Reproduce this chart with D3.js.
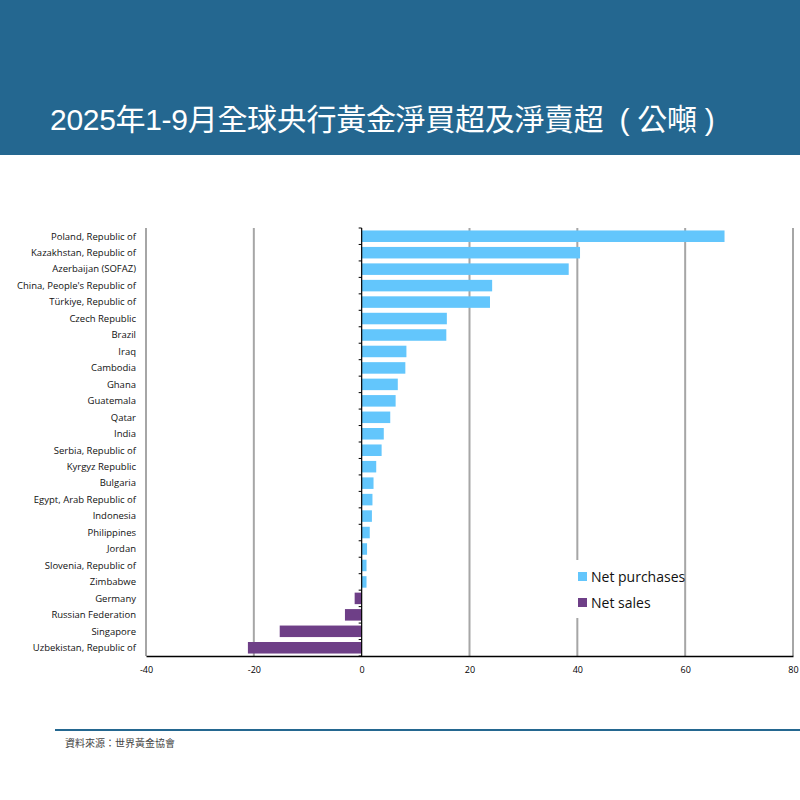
<!DOCTYPE html>
<html>
<head>
<meta charset="utf-8">
<script src="https://cdn.jsdelivr.net/npm/d3@7"></script>
<style>
  body { margin: 0; background: #fff; }
  svg { display: block; }
</style>
</head>
<body>
<div id="chart"></div>
<script>
// chart values (tonnes)
var countries = [
  "Poland, Republic of", "Kazakhstan, Republic of", "Azerbaijan (SOFAZ)",
  "China, People's Republic of", "Türkiye, Republic of", "Czech Republic",
  "Brazil", "Iraq", "Cambodia", "Ghana", "Guatemala", "Qatar", "India",
  "Serbia, Republic of", "Kyrgyz Republic", "Bulgaria", "Egypt, Arab Republic of",
  "Indonesia", "Philippines", "Jordan", "Slovenia, Republic of", "Zimbabwe",
  "Germany", "Russian Federation", "Singapore", "Uzbekistan, Republic of"
];
var tonnes = [
  67.3, 40.5, 38.4, 24.2, 23.8, 15.8, 15.7, 8.3, 8.1, 6.7, 6.3, 5.3, 4.1,
  3.7, 2.7, 2.2, 2.0, 1.9, 1.5, 1.0, 0.9, 0.9,
  -1.3, -3.1, -15.2, -21.1
];
var xTicks = [-40, -20, 0, 20, 40, 60, 80];
var seriesNames = ["Net purchases", "Net sales"];

var colorBuy = "#63c6fc", colorSell = "#6e3f87", headColor = "#246790";

var W = 800, H = 800;
var svg = d3.select("#chart").append("svg").attr("width", W).attr("height", H);

// header band + title
svg.append("rect").attr("x", 0).attr("y", 0).attr("width", W).attr("height", 155).attr("fill", headColor);
svg.append("text")
  .attr("x", 50).attr("y", 130)
  .attr("fill", "#fff")
  .attr("font-family", "'Liberation Sans', Arial, 'Noto Sans CJK TC', sans-serif")
  .attr("font-size", 30)
  .attr("letter-spacing", -0.3)
  .text("2025年1-9月全球央行黃金淨買超及淨賣超\u00a0\u00a0(\u00a0公噸\u00a0)");

var margin = { left: 146, right: 7, top: 228, bottom: 144 };
var x = d3.scaleLinear().domain([-40, 80]).range([margin.left, W - margin.right]);
var y = d3.scaleBand().domain(countries).range([margin.top, H - margin.bottom]).paddingInner(0.3).paddingOuter(0.15);

var g = svg.append("g").attr("font-family", "'Open Sans', 'Noto Sans', sans-serif");

// vertical grid
g.append("g").selectAll("line").data(xTicks.filter(d => d !== 0)).join("line")
  .attr("x1", d => x(d)).attr("x2", d => x(d))
  .attr("y1", margin.top).attr("y2", H - margin.bottom)
  .attr("stroke", "#a6a6a6").attr("stroke-width", 2);

// bars
var data = countries.map((c, i) => ({ name: c, v: tonnes[i] }));
g.append("g").selectAll("rect").data(data).join("rect")
  .attr("x", d => x(Math.min(0, d.v)))
  .attr("width", d => Math.abs(x(d.v) - x(0)))
  .attr("y", d => y(d.name))
  .attr("height", y.bandwidth())
  .attr("fill", d => d.v >= 0 ? colorBuy : colorSell);

// category labels
g.append("g").selectAll("text").data(countries).join("text")
  .attr("x", 136)
  .attr("y", d => y(d) + y.bandwidth() / 2)
  .attr("dy", "0.35em")
  .attr("text-anchor", "end")
  .attr("font-size", 9.5)
  .attr("fill", "#111")
  .text(d => d);

// zero axis with ticks between categories
var bounds = d3.range(countries.length + 1).map(i => margin.top + i * (H - margin.top - margin.bottom) / countries.length);
g.append("line").attr("x1", x(0)).attr("x2", x(0)).attr("y1", margin.top).attr("y2", H - margin.bottom)
  .attr("stroke", "#000").attr("stroke-width", 1.2);
g.append("g").selectAll("line").data(bounds).join("line")
  .attr("x1", x(0) - 3).attr("x2", x(0))
  .attr("y1", d => d).attr("y2", d => d)
  .attr("stroke", "#000").attr("stroke-width", 1);

// bottom axis
var xAxis = g.append("g").attr("transform", `translate(0,${H - margin.bottom})`)
  .call(d3.axisBottom(x).tickValues(xTicks).tickSize(0).tickPadding(11).tickFormat(d => String(d)));
xAxis.select(".domain").attr("stroke", "#000").attr("stroke-width", 1.5);
xAxis.selectAll("text").attr("font-family", "'Open Sans', 'Noto Sans', sans-serif").attr("font-size", 9).attr("fill", "#000");

// legend
var leg = g.append("g").attr("transform", "translate(572,560)");
leg.append("rect").attr("width", 110).attr("height", 58).attr("fill", "#fff");
leg.selectAll("g").data(seriesNames).join("g")
  .attr("transform", (d, i) => `translate(6,${17 + i * 26})`)
  .each(function (d, i) {
    var s = d3.select(this);
    s.append("rect").attr("x", 0).attr("y", -5).attr("width", 9).attr("height", 9).attr("fill", i ? colorSell : colorBuy);
    s.append("text").attr("x", 13).attr("dy", "0.35em").attr("font-size", 14).attr("fill", "#111").text(d);
  });

// footer
svg.append("line").attr("x1", 55).attr("x2", W).attr("y1", 730).attr("y2", 730)
  .attr("stroke", headColor).attr("stroke-width", 2);
svg.append("text").attr("x", 65).attr("y", 747)
  .attr("font-family", "'Noto Sans CJK TC', sans-serif").attr("font-size", 10).attr("fill", "#444")
  .text("資料來源：世界黃金協會");
</script>
</body>
</html>
